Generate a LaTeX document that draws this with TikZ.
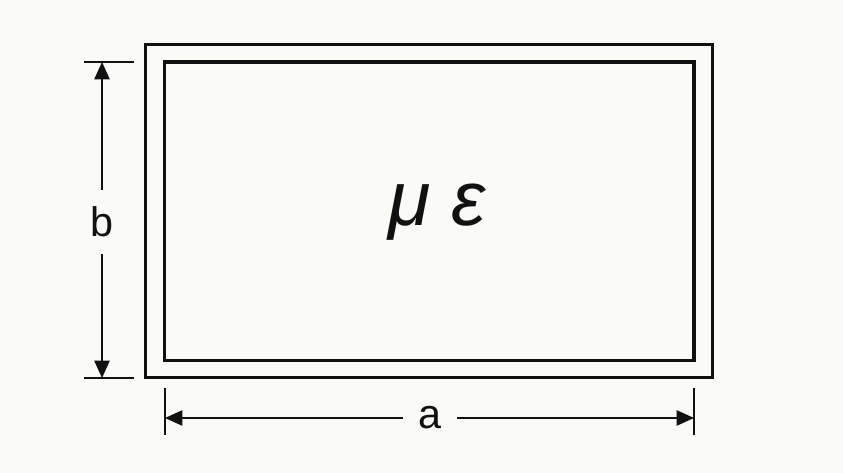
\documentclass[tikz,border=0pt]{standalone}
\usepackage{fontspec}
\setmainfont{Liberation Sans}
\usetikzlibrary{arrows.meta}
\definecolor{bgcol}{HTML}{FAFAF7}
\definecolor{ink}{HTML}{111111}
\tikzset{
  wall/.style={draw=ink, line width=2.4pt},
  dimline/.style={draw=ink, line width=1.1pt},
  dimarrow/.style={dimline, -{Triangle[length=13pt,width=11.5pt]}},
  dimlabel/.style={inner sep=0pt, font=\fontsize{31}{36}\selectfont, text=ink},
}
\begin{document}
\begin{tikzpicture}[x=0.75pt,y=-0.75pt]
\fill[bgcol] (0,0) rectangle (843,473);
\useasboundingbox (0,0) rectangle (843,473);
% walls
\draw[wall] (145.5,44.5) rectangle (712.5,377.5);
\draw[wall] (164.5,62) rectangle (694,360.5);
% material
\node[anchor=base, inner sep=0pt, text=ink, font=\fontsize{58}{64}\selectfont\itshape] (mat) at (437,226) {μ ε};
% b dimension
\coordinate (bt1) at (84,62);
\coordinate (bt2) at (134,62);
\coordinate (bb1) at (84,378);
\coordinate (bb2) at (134,378);
\coordinate (btop) at (102,62);
\coordinate (bbot) at (102,378);
\draw[dimline] (bt1) -- (bt2);
\draw[dimline] (bb1) -- (bb2);
\node[dimlabel, minimum height=48pt] (b) at (102,222) {b};
\draw[dimarrow] (b.north) -- (btop);
\draw[dimarrow] (b.south) -- (bbot);
% a dimension
\coordinate (al1) at (165,388);
\coordinate (al2) at (165,435);
\coordinate (ar1) at (694,388);
\coordinate (ar2) at (694,435);
\coordinate (aleft) at (165,418);
\coordinate (aright) at (694,418);
\draw[dimline] (al1) -- (al2);
\draw[dimline] (ar1) -- (ar2);
\node[dimlabel, minimum width=40pt] (a) at (430,418) {a};
\draw[dimarrow] (a.west) -- (aleft);
\draw[dimarrow] (a.east) -- (aright);
\end{tikzpicture}
\end{document}
